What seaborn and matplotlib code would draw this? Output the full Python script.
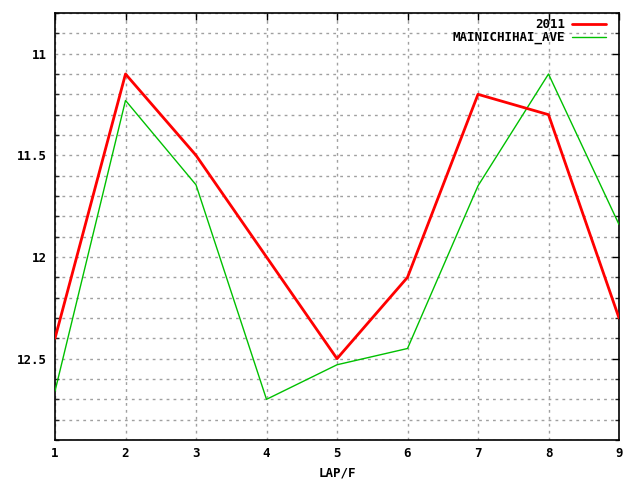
import matplotlib
matplotlib.use("Agg")
import matplotlib.pyplot as plt
import seaborn as sns
import pandas as pd
from matplotlib.ticker import MultipleLocator, FixedLocator

laps = [1, 2, 3, 4, 5, 6, 7, 8, 9]
series_2011 = [12.40, 11.10, 11.50, 12.00, 12.50, 12.10, 11.20, 11.30, 12.30]
series_ave = [12.66, 11.23, 11.645, 12.70, 12.53, 12.45, 11.65, 11.10, 11.84]
yticks = [11, 11.5, 12, 12.5]
ytick_labels = ["11", "11.5", "12", "12.5"]
xlabel = "LAP/F"

sns.set_style("white")
plt.rcParams['font.family'] = ['DejaVu Sans Mono', 'DejaVu Sans']
plt.rcParams['text.color'] = 'black'
plt.rcParams['axes.labelcolor'] = 'black'
FS = 9

df = pd.DataFrame({
    "lap": laps * 2,
    "time": series_2011 + series_ave,
    "series": ["2011"] * len(laps) + ["MAINICHIHAI_AVE"] * len(laps),
})

fig = plt.figure(figsize=(6.4, 4.8), dpi=100)
ax = fig.add_axes([55/640, 1 - 440/480, 564/640, 427/480])

sns.lineplot(data=df[df.series == "2011"], x="lap", y="time", color="#ff0000",
             linewidth=2.0, ax=ax, label="2011", zorder=4)
sns.lineplot(data=df[df.series == "MAINICHIHAI_AVE"], x="lap", y="time", color="#00c000",
             linewidth=1.0, ax=ax, label="MAINICHIHAI_AVE", zorder=3)

ax.set_xlim(1, 9)
ax.set_ylim(12.9, 10.8)

ax.xaxis.set_major_locator(FixedLocator(laps))
ax.set_xticklabels([str(v) for v in laps])
ax.yaxis.set_major_locator(FixedLocator(yticks))
ax.set_yticklabels(ytick_labels)
ax.yaxis.set_minor_locator(MultipleLocator(0.1))

for lab in ax.get_xticklabels() + ax.get_yticklabels():
    lab.set_fontweight("bold")
    lab.set_fontsize(FS)

ax.tick_params(axis="both", which="major", direction="in", length=5, width=1,
               top=True, right=True, pad=6, colors="black")
ax.tick_params(axis="y", which="minor", direction="in", length=3, width=1,
               left=True, right=True)
ax.tick_params(axis="x", which="major", pad=5)

ax.grid(True, which="both", axis="y", color="#a0a0a0", linestyle=(0, (2, 3)), linewidth=1)
ax.grid(True, which="major", axis="x", color="#a0a0a0", linestyle=(0, (2, 3)), linewidth=1)
ax.set_axisbelow(True)

for s in ax.spines.values():
    s.set_color("black")
    s.set_linewidth(1.2)

ax.set_xlabel(xlabel, fontsize=FS, fontweight="bold", labelpad=5)
ax.set_ylabel("")

leg = ax.legend(loc="upper right", bbox_to_anchor=((606 - 55) / 564, (440 - 18.5) / 427),
                frameon=False, markerfirst=False,
                prop={"weight": "bold", "size": FS}, handlelength=2.7,
                borderaxespad=0, borderpad=0, labelspacing=-0.05, handletextpad=0.6)
for t in leg.get_texts():
    t.set_ha("right")
    t.set_color("black")

fig.savefig("out.png", dpi=100)
